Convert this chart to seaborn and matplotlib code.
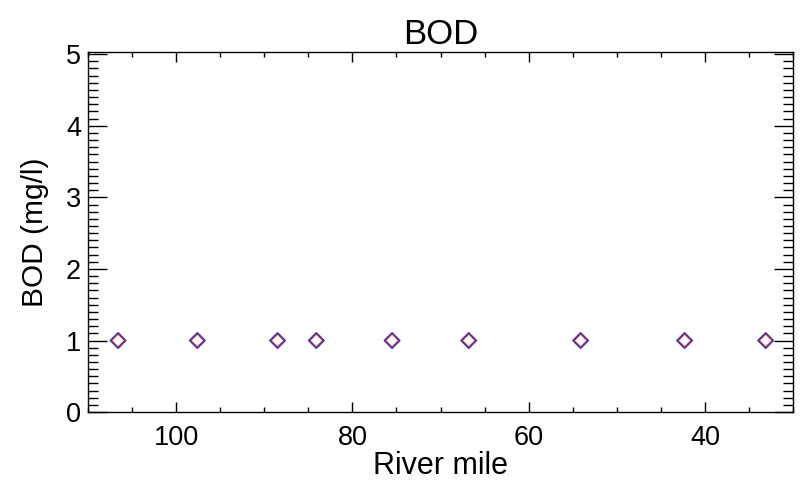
import matplotlib
matplotlib.use("Agg")
import matplotlib.pyplot as plt
import seaborn as sns
import pandas as pd
from matplotlib.ticker import MultipleLocator

river_mile = [106.6, 97.6, 88.5, 84.1, 75.5, 66.8, 54.1, 42.3, 33.1]
bod_observed = [1, 1, 1, 1, 1, 1, 1, 1, 1]
bod_model = [1, 1, 1, 1, 1, 1, 1, 1, 1]

sns.set_style("white")
plt.rcParams['font.family'] = ['Liberation Sans', 'DejaVu Sans']
plt.rcParams['text.color'] = 'black'
plt.rcParams['axes.labelcolor'] = 'black'
plt.rcParams['xtick.color'] = 'black'
plt.rcParams['ytick.color'] = 'black'

fig = plt.figure(figsize=(8.01, 4.86), dpi=100)
ax = fig.add_axes([0.110, 0.152, 0.880, 0.741])

df_b = pd.DataFrame({"mile": river_mile, "bod": bod_observed})
df_r = pd.DataFrame({"mile": river_mile, "bod": bod_model})
sns.scatterplot(data=df_b, x="mile", y="bod", ax=ax, marker="D", s=60,
                facecolor="none", edgecolor="#2b3fc8", linewidth=1.3, zorder=3)
sns.scatterplot(data=df_r, x="mile", y="bod", ax=ax, marker="D", s=42,
                facecolor="none", edgecolor="#d8202a", linewidth=0.7, zorder=4)

ax.set_xlim(110, 30)
ax.set_ylim(0, 5.03)
ax.xaxis.set_major_locator(MultipleLocator(20))
ax.xaxis.set_minor_locator(MultipleLocator(5))
ax.yaxis.set_major_locator(MultipleLocator(1))
ax.yaxis.set_minor_locator(MultipleLocator(0.1))

ax.tick_params(axis='x', which='major', direction='in', length=7, width=1, top=True, bottom=True, labelsize=19.5, pad=9)
ax.tick_params(axis='x', which='minor', direction='in', length=3.5, width=1, top=True, bottom=True)
ax.tick_params(axis='y', which='major', direction='in', length=14, width=1, left=True, right=True, labelsize=19.5, pad=5)
ax.tick_params(axis='y', which='minor', direction='in', length=7, width=1, left=True, right=True)

for sp in ax.spines.values():
    sp.set_color('black')
    sp.set_linewidth(1)

ax.set_xlabel("River mile", fontsize=22, labelpad=0)
ax.set_ylabel("BOD (mg/l)", fontsize=21.5, labelpad=12)
ax.set_title("BOD", fontsize=25, pad=6)

fig.savefig("out.png", dpi=100)
